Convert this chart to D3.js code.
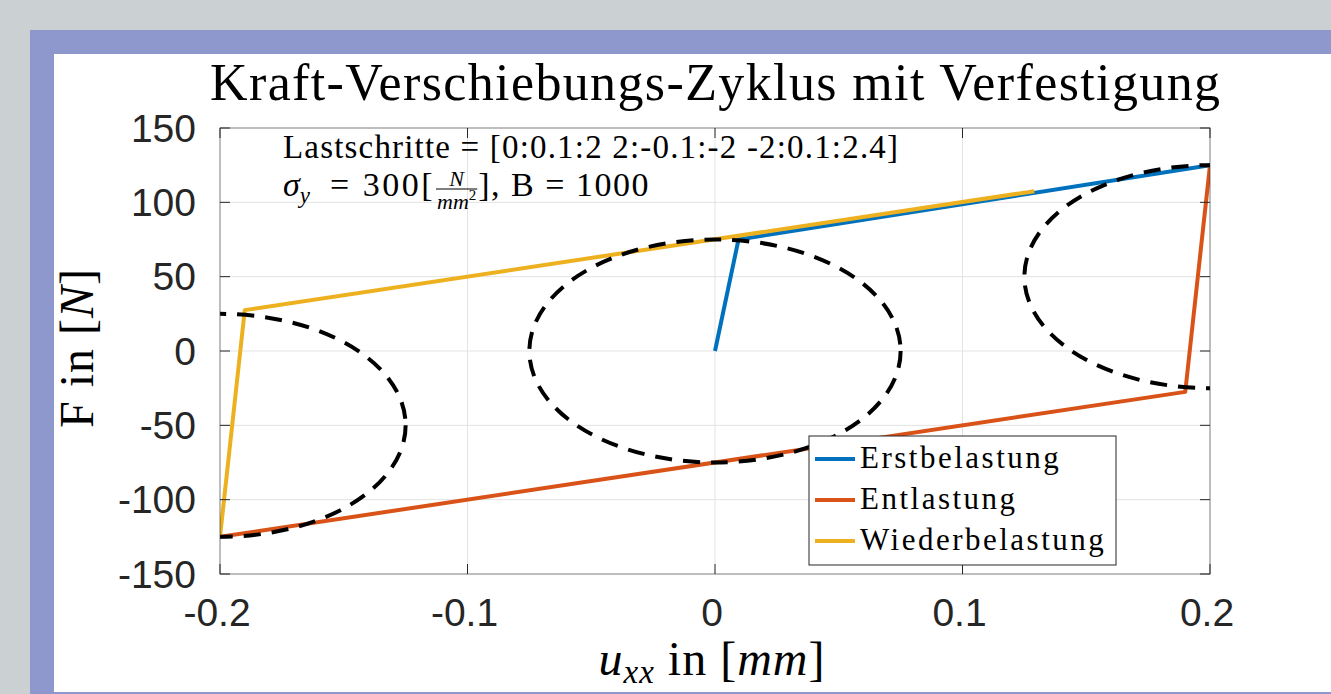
<!DOCTYPE html>
<html>
<head>
<meta charset="utf-8">
<script src="https://cdn.jsdelivr.net/npm/d3@7"></script>
<style>
  body { margin: 0; background: #cbd0d3; }
  svg { display: block; }
  text { white-space: pre; }
</style>
</head>
<body>
<div id="chart"></div>
<script>
// Kurven (u in mm, F in N)
const loadU = [0, 0.0095, 0.2]
const loadF = [0, 75, 125]
const unloadU = [0.2, 0.19, -0.2]
const unloadF = [125, -27.5, -125]
const reloadU = [-0.2, -0.19, 0.129]
const reloadF = [-125, 27.5, 107.5]

// Fliessflaechen (Mittelpunkt und Halbachsen)
const yieldCenterU = [0, -0.2, 0.2]
const yieldCenterF = [0, -50, 50]
const yieldRadiusU = 0.075
const yieldRadiusF = 75

const xTicks = [-0.2, -0.1, 0, 0.1, 0.2]
const xTickLabels = ["-0.2", "-0.1", "0", "0.1", "0.2"]
const yTicks = [-150, -100, -50, 0, 50, 100, 150]
const yTickLabels = ["-150", "-100", "-50", "0", "50", "100", "150"]

const seriesNames = ["Erstbelastung", "Entlastung", "Wiederbelastung"]
const seriesColors = ["#0072bd", "#d95319", "#edb120"]

const width = 1331;
const height = 694;
const plot = {left: 220, right: 1210, top: 128, bottom: 574};
const serif = "'Liberation Serif', 'Times New Roman', serif";
const sans = "'Liberation Sans', Arial, sans-serif";
const axisColor = "#262626";

const svg = d3.select("#chart")
              .append("svg")
              .attr("width", width)
              .attr("height", height)

// Rahmen
svg.append("rect").attr("width", width).attr("height", height).attr("fill", "#cbd0d3")
svg.append("rect").attr("x", 30).attr("y", 30).attr("width", width - 30).attr("height", height - 30).attr("fill", "#8e98cc")
svg.append("rect").attr("x", 54).attr("y", 54).attr("width", width - 54).attr("height", height - 56).attr("fill", "white")

const x = d3.scaleLinear().domain([-0.2, 0.2]).range([plot.left, plot.right])
const y = d3.scaleLinear().domain([-150, 150]).range([plot.bottom, plot.top])

// Gitter
svg.append("g")
   .selectAll("line")
   .data(xTicks.slice(1, -1))
   .enter()
   .append("line")
   .attr("x1", d => x(d)).attr("x2", d => x(d))
   .attr("y1", plot.top).attr("y2", plot.bottom)
   .attr("stroke", "#e3e3e3").attr("stroke-width", 1)

svg.append("g")
   .selectAll("line")
   .data(yTicks.slice(1, -1))
   .enter()
   .append("line")
   .attr("y1", d => y(d)).attr("y2", d => y(d))
   .attr("x1", plot.left).attr("x2", plot.right)
   .attr("stroke", "#e3e3e3").attr("stroke-width", 1)

svg.append("defs")
   .append("clipPath")
   .attr("id", "plotclip")
   .append("rect")
   .attr("x", plot.left).attr("y", plot.top)
   .attr("width", plot.right - plot.left).attr("height", plot.bottom - plot.top)

const line = d3.line().x(d => x(d[0])).y(d => y(d[1]))
const curves = [
  d3.zip(loadU, loadF),
  d3.zip(unloadU, unloadF),
  d3.zip(reloadU, reloadF)
]

const marks = svg.append("g").attr("clip-path", "url(#plotclip)")

marks.selectAll("path")
     .data(curves)
     .enter()
     .append("path")
     .attr("d", line)
     .attr("fill", "none")
     .attr("stroke", (d, i) => seriesColors[i])
     .attr("stroke-width", 4)
     .attr("stroke-linejoin", "round")

marks.selectAll("ellipse")
     .data(d3.zip(yieldCenterU, yieldCenterF))
     .enter()
     .append("ellipse")
     .attr("cx", d => x(d[0]))
     .attr("cy", d => y(d[1]))
     .attr("rx", x(yieldRadiusU) - x(0))
     .attr("ry", y(0) - y(yieldRadiusF))
     .attr("fill", "none")
     .attr("stroke", "black")
     .attr("stroke-width", 4)
     .attr("stroke-dasharray", "17,11")

// Achsen mit Ticks nach innen, auch oben und rechts
const tickLen = 10;
const axes = svg.append("g").attr("stroke", axisColor).attr("stroke-width", 1)
axes.append("rect")
    .attr("x", plot.left).attr("y", plot.top)
    .attr("width", plot.right - plot.left).attr("height", plot.bottom - plot.top)
    .attr("fill", "none").attr("stroke-opacity", 0.6)
xTicks.forEach(t => {
  axes.append("line").attr("x1", x(t)).attr("x2", x(t)).attr("y1", plot.bottom).attr("y2", plot.bottom - tickLen)
  axes.append("line").attr("x1", x(t)).attr("x2", x(t)).attr("y1", plot.top).attr("y2", plot.top + tickLen)
})
yTicks.forEach(t => {
  axes.append("line").attr("y1", y(t)).attr("y2", y(t)).attr("x1", plot.left).attr("x2", plot.left + tickLen)
  axes.append("line").attr("y1", y(t)).attr("y2", y(t)).attr("x1", plot.right).attr("x2", plot.right - tickLen)
})

svg.append("g")
   .selectAll("text")
   .data(xTicks)
   .enter()
   .append("text")
   .attr("x", d => x(d) - 3)
   .attr("y", 626)
   .attr("text-anchor", "middle")
   .attr("font-family", sans)
   .attr("font-size", 39)
   .attr("fill", axisColor)
   .text((d, i) => xTickLabels[i])

svg.append("g")
   .selectAll("text")
   .data(yTicks)
   .enter()
   .append("text")
   .attr("x", 196)
   .attr("y", d => y(d))
   .attr("dy", "0.35em")
   .attr("text-anchor", "end")
   .attr("font-family", sans)
   .attr("font-size", 39)
   .attr("fill", axisColor)
   .text((d, i) => yTickLabels[i])

// Titel
svg.append("text")
   .attr("x", 210)
   .attr("y", 100)
   .attr("textLength", 1010)
   .attr("lengthAdjust", "spacing")
   .attr("font-family", serif)
   .attr("font-size", 52)
   .attr("fill", "black")
   .text("Kraft-Verschiebungs-Zyklus mit Verfestigung")

// Achsenbeschriftungen
const xlab = svg.append("text")
   .attr("x", 712)
   .attr("y", 675)
   .attr("text-anchor", "middle")
   .attr("font-family", serif)
   .attr("font-size", 48)
   .attr("letter-spacing", 1)
   .attr("fill", "black")
xlab.append("tspan").attr("font-style", "italic").text("u")
xlab.append("tspan").attr("font-style", "italic").attr("font-size", 33).attr("dy", 8).text("xx")
xlab.append("tspan").attr("dy", -8).text(" in [")
xlab.append("tspan").attr("font-style", "italic").text("mm")
xlab.append("tspan").text("]")

const ylab = svg.append("text")
   .attr("transform", "translate(93,348) rotate(-90)")
   .attr("text-anchor", "middle")
   .attr("font-family", serif)
   .attr("font-size", 48)
   .attr("letter-spacing", 1)
   .attr("fill", "black")
ylab.append("tspan").text("F in [")
ylab.append("tspan").attr("font-style", "italic").text("N")
ylab.append("tspan").text("]")

// Textfeld
const note = svg.append("g").attr("font-family", serif).attr("fill", "black")
note.append("text")
    .attr("x", 283).attr("y", 158)
    .attr("font-size", 33)
    .attr("textLength", 615)
    .attr("lengthAdjust", "spacing")
    .text("Lastschritte = [0:0.1:2 2:-0.1:-2 -2:0.1:2.4]")

let cx = 283;
const row2 = 196;
const part = (txt, size, italic, dy, spacing) => {
  const t = note.append("text")
                .attr("x", cx).attr("y", row2 + (dy || 0))
                .attr("font-size", size)
                .attr("font-style", italic ? "italic" : "normal")
                .attr("letter-spacing", spacing || 0)
                .text(txt)
  cx += t.node().getComputedTextLength()
  return t
}
part("σ", 34, true)
part("y", 23, true, 7)
cx += 9;
part(" = 300[", 34, false, 0, 2.5)
const fracX = cx + 1;
const numer = note.append("text").attr("y", 186).attr("font-size", 22).attr("font-style", "italic").attr("text-anchor", "middle").text("N")
const denom = note.append("text").attr("y", 209).attr("font-size", 22).attr("font-style", "italic").attr("text-anchor", "middle")
denom.append("tspan").text("mm")
denom.append("tspan").attr("font-size", 15).attr("font-style", "normal").attr("dy", -9).text("2")
const fracW = denom.node().getComputedTextLength() + 2;
numer.attr("x", fracX + fracW / 2)
denom.attr("x", fracX + fracW / 2)
note.append("line")
    .attr("x1", fracX).attr("x2", fracX + fracW)
    .attr("y1", 189).attr("y2", 189)
    .attr("stroke", "black").attr("stroke-width", 1.2)
cx = fracX + fracW + 1;
part("], B = 1000", 34, false, 0, 1.5)

// Legende
const legend = svg.append("g")
legend.append("rect")
      .attr("x", 809).attr("y", 436)
      .attr("width", 307).attr("height", 129)
      .attr("fill", "white")
      .attr("stroke", axisColor).attr("stroke-width", 1)

const legendRows = legend.selectAll("g.row")
      .data(seriesNames)
      .enter()
      .append("g")
      .attr("class", "row")
      .attr("transform", (d, i) => `translate(0,${459 + i * 41})`)

legendRows.append("line")
          .attr("x1", 815).attr("x2", 855)
          .attr("stroke", (d, i) => seriesColors[i])
          .attr("stroke-width", 4)

legendRows.append("text")
          .attr("x", 860)
          .attr("y", 9)
          .attr("font-family", serif)
          .attr("font-size", 31)
          .attr("letter-spacing", 2.5)
          .attr("fill", "black")
          .text(d => d)
</script>
</body>
</html>
